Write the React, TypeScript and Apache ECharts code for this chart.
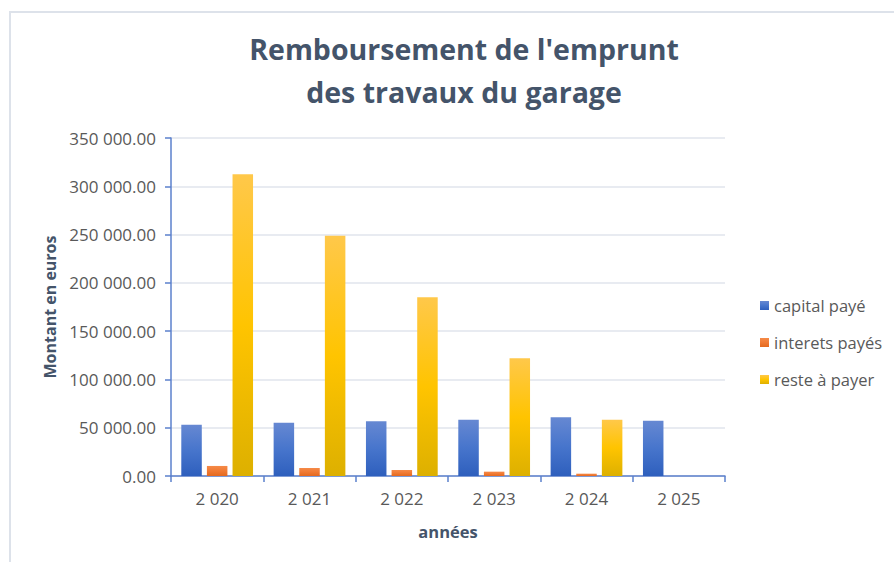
import React, { useEffect, useRef } from "react";
import * as echarts from "echarts";

const categories = ["2 020", "2 021", "2 022", "2 023", "2 024", "2 025"];
const capitalPaye = [53100, 55200, 56600, 58300, 60800, 57200];
const interetsPayes = [10400, 8300, 6200, 4500, 2400, null];
const resteAPayer = [312400, 248700, 185000, 121900, 58300, null];
const seriesNames = ["capital payé", "interets payés", "reste à payer"];
const titleLines = ["Remboursement de l'emprunt", "des travaux du garage"];

function fmt(v: number): string {
  const s = Math.round(v).toString().replace(/\B(?=(\d{3})+(?!\d))/g, " ");
  return s + ".00";
}

export default function App() {
  const ref = useRef<HTMLDivElement>(null);
  useEffect(() => {
    if (!ref.current) return;
    const chart = echarts.init(ref.current, null, { renderer: "svg" });
    const grad = (stops: [number, string][]) =>
      new echarts.graphic.LinearGradient(0, 0, 0, 1, stops.map(([offset, color]) => ({ offset, color })));
    const font = "'Open Sans', sans-serif";
    chart.setOption({
      animation: false,
      backgroundColor: "#ffffff",
      title: {
        text: titleLines.join("\n"),
        left: 459,
        textAlign: "center",
        top: 22,
        textStyle: {
          fontFamily: font,
          fontSize: 28.5,
          fontWeight: "bold",
          color: "#44546a",
          lineHeight: 43,
        },
      },
      graphic: [
        {
          type: "rect",
          shape: { x: 10, y: 12, width: 900, height: 570 },
          style: { fill: "none", stroke: "#dde2ea", lineWidth: 2 },
          silent: true,
        },
      ],
      legend: {
        orient: "vertical",
        left: 755,
        top: 292,
        itemGap: 20,
        itemWidth: 9,
        itemHeight: 9,
        icon: "rect",
        data: seriesNames,
        textStyle: { fontFamily: font, fontSize: 16.5, color: "#595959" },
      },
      grid: { left: 171, right: 169, top: 138, bottom: 86, containLabel: false },
      xAxis: {
        type: "category",
        data: categories,
        name: "années",
        nameLocation: "middle",
        nameGap: 47,
        nameTextStyle: { fontFamily: font, fontSize: 16.5, fontWeight: "bold", color: "#44546a" },
        axisLine: { lineStyle: { color: "#5b80cc", width: 1.5 } },
        axisTick: { show: true, length: 6, lineStyle: { color: "#5b80cc", width: 1.5 } },
        axisLabel: { fontFamily: font, fontSize: 17, color: "#595959", margin: 14 },
      },
      yAxis: {
        type: "value",
        min: 0,
        max: 350000,
        interval: 50000,
        name: "Montant en euros",
        nameLocation: "middle",
        nameGap: 113,
        nameRotate: 90,
        nameTextStyle: { fontFamily: font, fontSize: 16, fontWeight: "bold", color: "#44546a" },
        axisLine: { show: true, lineStyle: { color: "#5b80cc", width: 1.5 } },
        axisTick: { show: true, length: 6, lineStyle: { color: "#5b80cc", width: 1.5 } },
        axisLabel: { fontFamily: font, fontSize: 17, color: "#595959", margin: 15, formatter: (v: number) => fmt(v) },
        splitLine: { lineStyle: { color: "#e1e5ec", width: 1.5 } },
      },
      series: [
        {
          name: seriesNames[0],
          type: "bar",
          data: capitalPaye,
          barWidth: 20.5,
          barGap: "25%",
          itemStyle: {
            color: grad([[0, "#6688d2"], [0.5, "#4775cc"], [1, "#2e5fbd"]]),
          },
        },
        {
          name: seriesNames[1],
          type: "bar",
          data: interetsPayes,
          barWidth: 20.5,
          barGap: "25%",
          itemStyle: {
            color: grad([[0, "#f58a48"], [0.5, "#f07a33"], [1, "#e4691e"]]),
          },
        },
        {
          name: seriesNames[2],
          type: "bar",
          data: resteAPayer,
          barWidth: 20.5,
          barGap: "25%",
          itemStyle: {
            color: grad([[0, "#ffc84a"], [0.5, "#ffc400"], [1, "#ddb000"]]),
          },
        },
      ],
    });
    return () => chart.dispose();
  }, []);
  return (
    <div
      ref={ref}
      style={{ position: "fixed", left: 0, top: 0, width: 894, height: 562 }}
    />
  );
}
